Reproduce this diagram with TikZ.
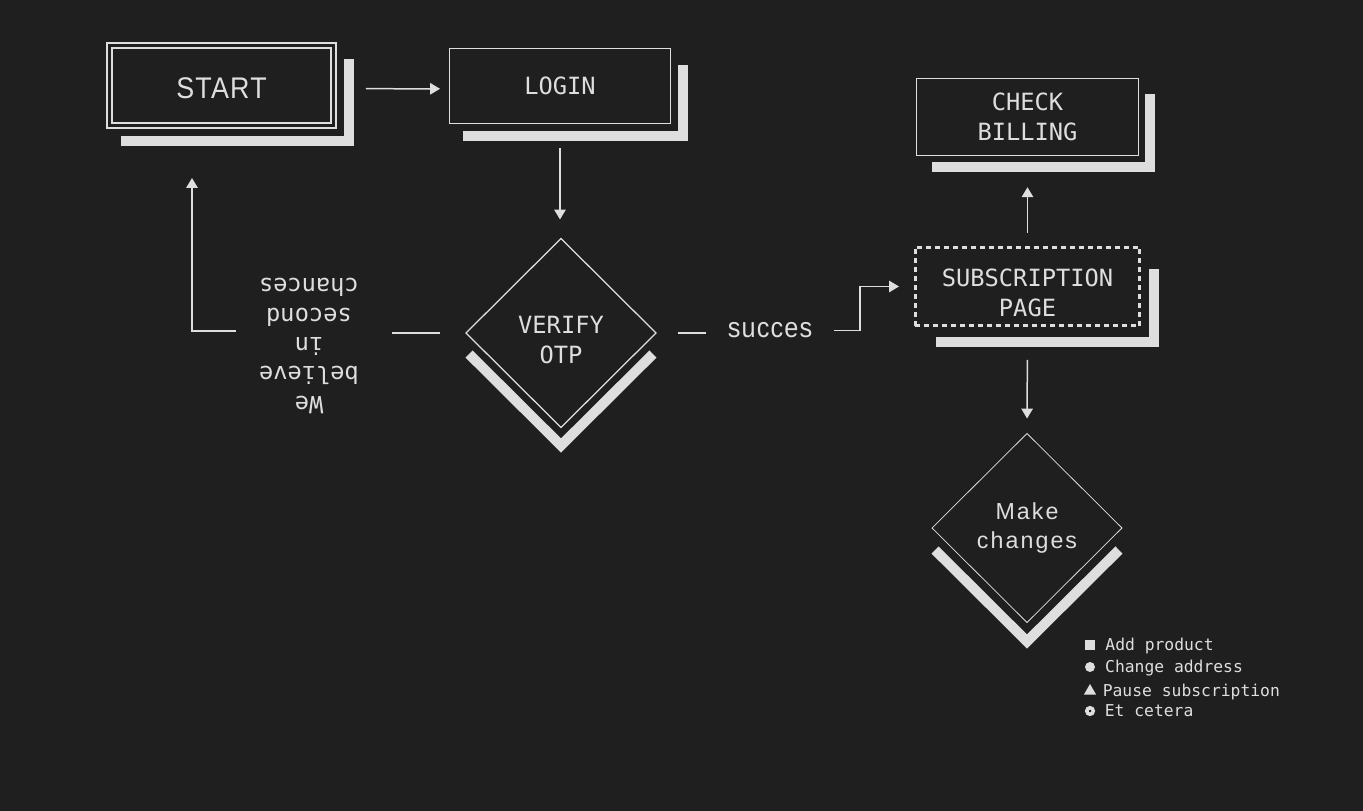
\documentclass[tikz,border=0pt]{standalone}
\usepackage{fontspec}
\setmonofont{DejaVu Sans Mono}
\newfontfamily\tallsans[FakeStretch=0.9, LetterSpace=4]{Liberation Sans}
\newfontfamily\spaced[LetterSpace=9]{Liberation Sans}
\usetikzlibrary{shapes.geometric,arrows.meta,positioning}

\definecolor{bgc}{HTML}{1F1F1F}
\definecolor{ink}{HTML}{DEDEDE}

\begin{document}
\begin{tikzpicture}[x=0.02cm, y=-0.02cm,
    wire/.style={draw=ink, line width=0.03cm},
    flow/.style={wire, -{Triangle[length=0.2cm, width=0.23cm]}},
    card/.style={rectangle, draw=ink, text=ink, inner sep=0pt, outer sep=0pt, align=center,
        font=\ttfamily\fontsize{13.5}{17}\selectfont},
    cardtext/.style={text=ink, inner sep=0pt, align=center, font=\ttfamily\fontsize{13.5}{17}\selectfont},
    choice/.style={diamond, draw=ink, text=ink, inner sep=0pt, outer sep=0pt, align=center,
        minimum width=3.8cm, minimum height=3.78cm},
    slab/.style={draw=ink, line width=0.2cm},
    item/.style={text=ink, inner sep=0pt, text height=7pt, text depth=0.5pt,
        font=\ttfamily\fontsize{9.3}{11}\selectfont},
    legsq/.style={rectangle, fill=ink, inner sep=0pt, minimum size=0.19cm},
    legdisc/.style={circle, fill=ink, inner sep=0pt, minimum size=0.2cm},
    legtri/.style={regular polygon, regular polygon sides=3, fill=ink, inner sep=0pt, minimum size=0.28cm},
    legring/.style={circle, fill=bgc, draw=ink, line width=0.07cm, inner sep=0pt, minimum size=0.13cm}]
    \fill[bgc] (0,0) rectangle (1363,811);

    % boxes
    \node[card, double=bgc, line width=0.04cm, double distance=0.06cm, minimum width=4.5cm, minimum height=1.6cm,
        label={[cardtext, font=\tallsans\fontsize{17}{20}\selectfont, yshift=-0.06cm]center:START}] (start) at (221.5,85.7) {};
    \node[card, line width=0.03cm, minimum width=4.42cm, minimum height=1.5cm] (login) at (560,85.8) {LOGIN};
    \node[choice, line width=0.025cm,
        label={[cardtext, yshift=-0.14cm]center:{VERIFY\\OTP}}] (otp) at (561,333) {};
    \node[text=ink, rotate=180, align=center, inner sep=0pt,
        font=\ttfamily\fontsize{13.5}{16.7}\selectfont] (chance) at (309,346) {We\\believe\\in\\second\\chances};
    \node[text=ink, inner sep=0pt, minimum width=2.56cm, font=\tallsans\fontsize{16}{19}\selectfont] (ok) at (770,330.5) {succes};
    \node[card, line width=0.06cm, dash pattern=on 0.1cm off 0.08cm, minimum width=4.5cm, minimum height=1.58cm,
        label={[cardtext, yshift=-0.13cm]center:{SUBSCRIPTION\\PAGE}}] (sub) at (1027.5,286.5) {};
    \node[card, line width=0.02cm, minimum width=4.44cm, minimum height=1.53cm] (bill) at (1027.5,117) {CHECK\\BILLING};
    \node[choice, line width=0.015cm, font=\spaced\fontsize{13.2}{16}\selectfont] (edit) at (1027,528) {Make\\changes};

    % shadows
    \draw[slab] ([shift={(12,15)}]start.south west) -| ([shift={(15,13)}]start.north east);
    \draw[slab] ([shift={(13,12.5)}]login.south west) -| ([shift={(12.5,16.5)}]login.north east);
    \draw[slab] ([shift={(15.5,12)}]bill.south west) -| ([shift={(12,15)}]bill.north east);
    \draw[slab] ([shift={(21,16)}]sub.south west) -| ([shift={(14,22)}]sub.north east);
    \draw[slab] ([shift={(3,21)}]otp.west) -- ([shift={(0,18)}]otp.south) -- ([shift={(-3,21)}]otp.east);
    \draw[slab] ([shift={(3,22)}]edit.west) -- ([shift={(0,19)}]edit.south) -- ([shift={(-3,22)}]edit.east);

    % connectors
    \coordinate (backR) at (392,333);
    \coordinate (backL) at (236,331);
    \coordinate (backT) at (192,178);
    \coordinate (bend) at (860,330.5);
    \draw[flow, shorten <=0.64cm, shorten >=0.19cm] ([yshift=-0.06cm]start.east) -- ([yshift=-0.06cm]login.west);
    \draw[flow, shorten <=0.49cm, shorten >=0.38cm] (login.south) -- (login.south |- otp.north);
    \draw[wire] ([xshift=-0.52cm]otp.west) -- (backR);
    \draw[flow] (backL) -| (backT);
    \draw[wire] ([xshift=0.44cm]otp.east) -- (otp.east -| ok.west);
    \draw[flow, shorten >=0.32cm] (ok.east) -- (bend) |- (sub.west);
    \draw[flow, shorten <=0.28cm, shorten >=0.64cm] (sub.north) -- (bill.south);
    \draw[flow, shorten <=0.68cm, shorten >=0.3cm] (sub.south) -- (edit.north);

    % legend
    \node[legsq] (m1) at (1090,645) {};
    \node[legdisc] (m2) at (1090,667) {};
    \node[legtri] (m3) at (1090,691) {};
    \node[legring] (m4) at (1090,711) {};
    \node[item, right=0.2cm of m1] (t1) {Add product};
    \node[item, right=0.19cm of m2] (t2) {Change address};
    \node[item, right=0.16cm of m3] (t3) {Pause subscription};
    \node[item, right=0.19cm of m4] (t4) {Et cetera};
\end{tikzpicture}
\end{document}
